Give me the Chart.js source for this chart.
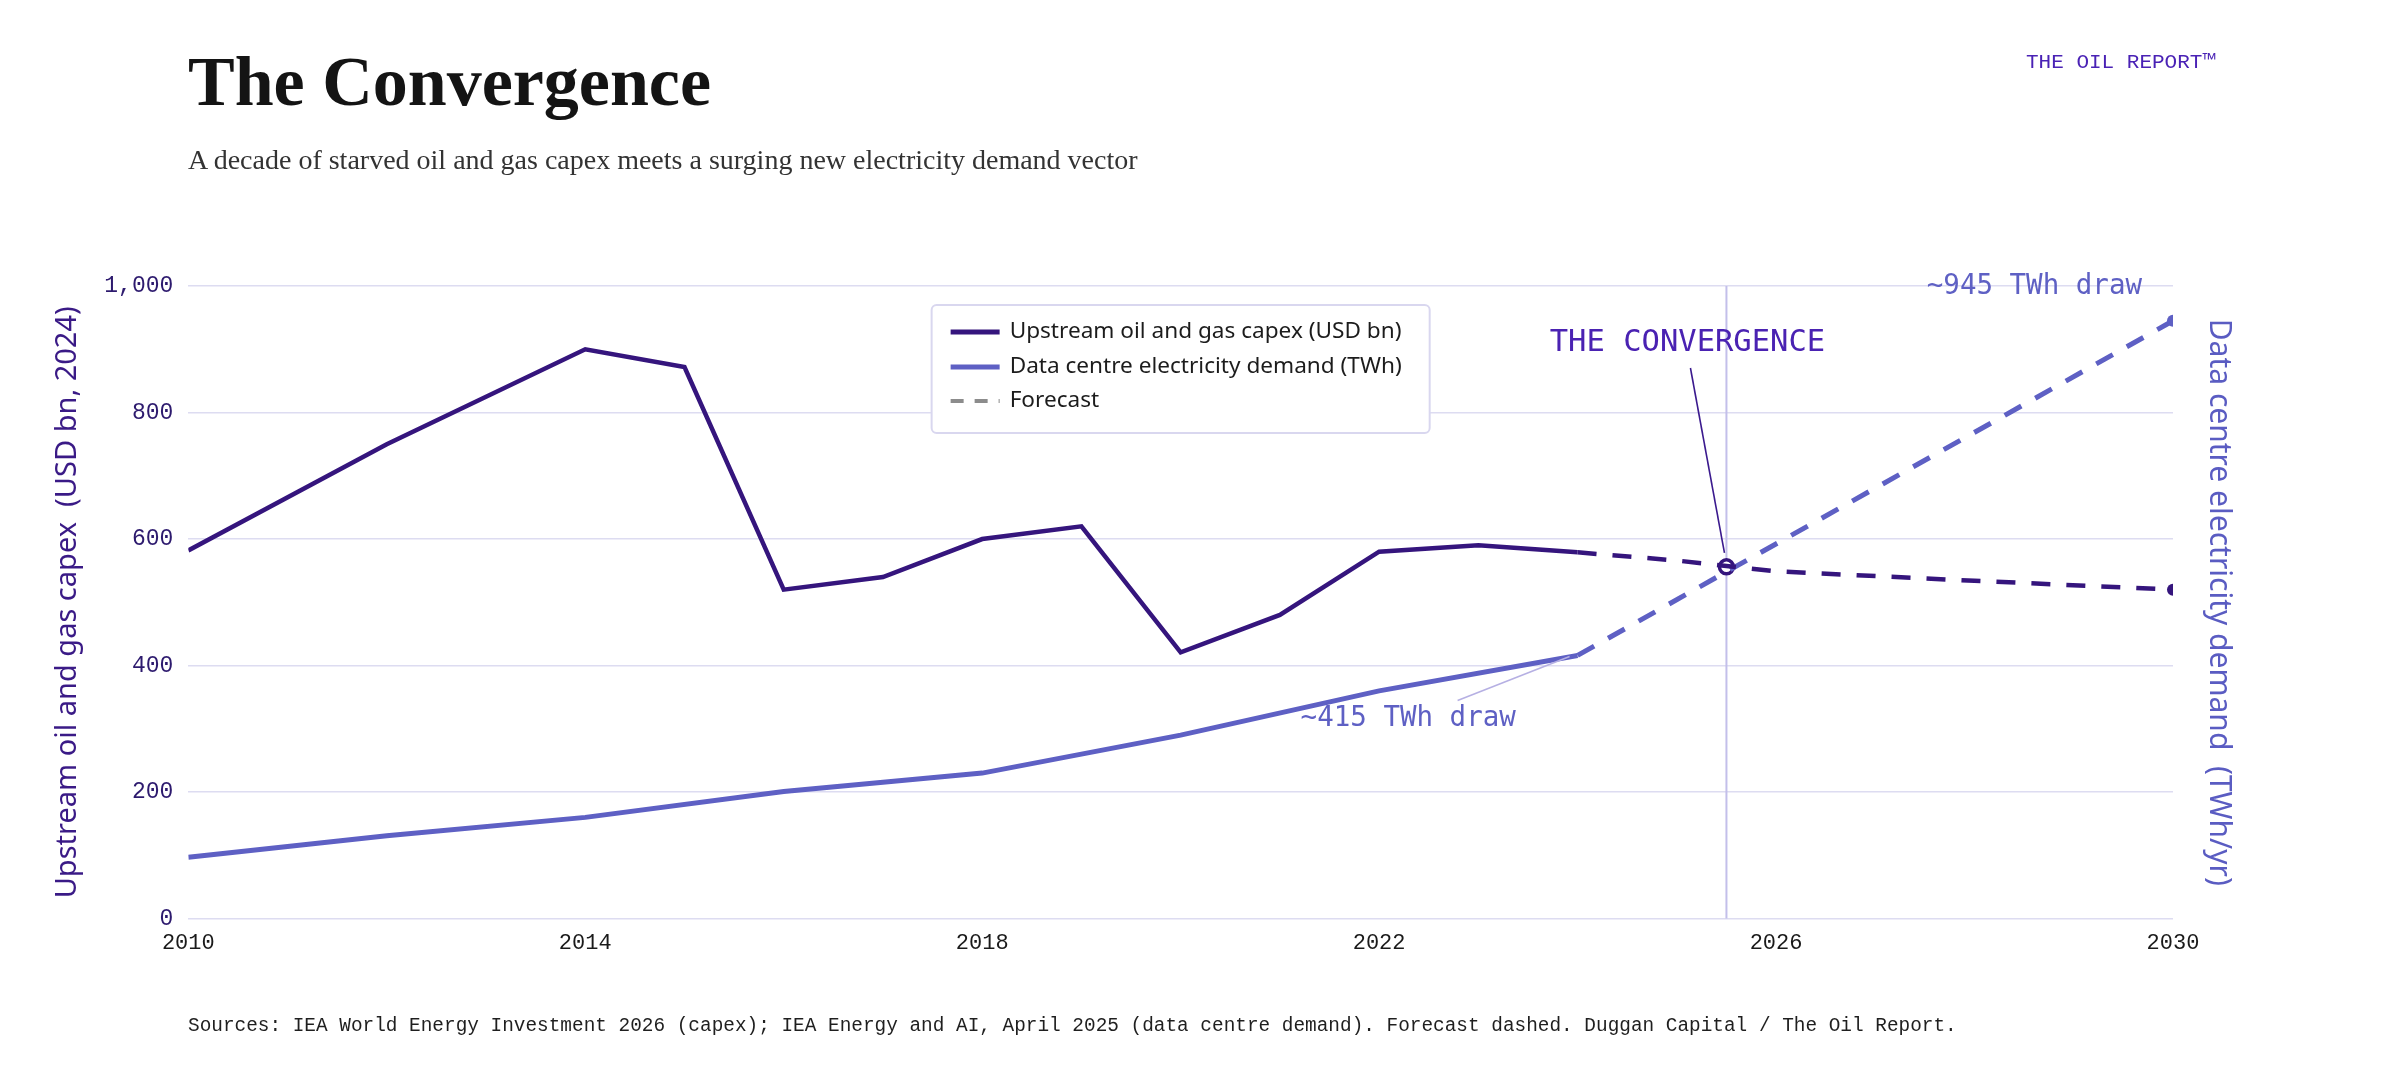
<!DOCTYPE html>
<html>
<head>
<meta charset="utf-8">
<title>The Convergence</title>
<script src="https://cdn.jsdelivr.net/npm/chart.js@4.4.1/dist/chart.umd.min.js"></script>
<style>
  html, body { margin: 0; padding: 0; background: #ffffff; }
  #wrap { position: relative; width: 2400px; height: 1080px; overflow: hidden; background: #fff; }
  #c { position: absolute; left: 0; top: 0; }
  .t { position: absolute; white-space: nowrap; margin: 0; }
  #title { left: 188px; top: 47px; font: bold 70px/70px "Liberation Serif", serif; color: #141414; }
  #sub { left: 188px; top: 146px; font: 28px/28px "Liberation Serif", serif; color: #333333; }
  #brand { right: 185px; top: 52px; font: 21px/21px "Liberation Mono", monospace; color: #4a22b5; }
  #foot { left: 188px; top: 1016px; font: 19.4px/20px "Liberation Mono", monospace; color: #1f1f1f; }
</style>
</head>
<body>
<div id="wrap">
  <canvas id="c"></canvas>
  <div class="t" id="title">The Convergence</div>
  <div class="t" id="sub">A decade of starved oil and gas capex meets a surging new electricity demand vector</div>
  <div class="t" id="brand">THE OIL REPORT™</div>
  <div class="t" id="foot">Sources: IEA World Energy Investment 2026 (capex); IEA Energy and AI, April 2025 (data centre demand). Forecast dashed. Duggan Capital / The Oil Report.</div>
</div>
<script>
// ---------- data ----------
const capexYears = [2010, 2012, 2014, 2015, 2016, 2017, 2018, 2019, 2020, 2021, 2022, 2023, 2024];
const capexValues = [582, 750, 900, 872, 520, 540, 600, 620, 421, 480, 580, 590, 579];
const capexForecastYears = [2024, 2025, 2026, 2028, 2030];
const capexForecastValues = [579, 566, 549, 534, 520];
const dcYears = [2010, 2012, 2014, 2016, 2018, 2020, 2022, 2024];
const dcValues = [97, 131, 160, 201, 230, 290, 360, 416];
const dcForecastYears = [2024, 2030];
const dcForecastValues = [416, 945];
const convergenceYears = [2025.5];
const convergenceValues = [556];
const xTickValues = [2010, 2014, 2018, 2022, 2026, 2030];
const yTickValues = [0, 200, 400, 600, 800, 1000];
const legendLabels = ['Upstream oil and gas capex (USD bn)', 'Data centre electricity demand (TWh)', 'Forecast'];
const leftAxisTitle = 'Upstream oil and gas capex  (USD bn, 2024)';
const rightAxisTitle = 'Data centre electricity demand  (TWh/yr)';
const convergenceLabel = 'THE CONVERGENCE';
const dcNowLabel = '~415 TWh draw';
const dcEndLabel = '~945 TWh draw';

// ---------- styles ----------
const CAPEX = '#35157d';
const DC = '#5e60c4';
const GRID = '#dddcf1';
const MONO = '"Liberation Mono", "DejaVu Sans Mono", monospace';
const ANNO = '"DejaVu Sans Mono", monospace';
const SANS = '"Noto Sans", "DejaVu Sans", sans-serif';

const pts = (xs, ys) => xs.map((v, i) => ({ x: v, y: ys[i] }));
const lastOnly = r => ctx => (ctx.dataIndex === ctx.dataset.data.length - 1 ? r : 0);

const legendPlugin = {
  id: 'boxLegend',
  afterDraw(chart) {
    const { ctx, chartArea } = chart;
    ctx.save();
    ctx.font = '22.6px ' + SANS;
    const textW = Math.max(...legendLabels.map(s => ctx.measureText(s).width));
    const padL = 19, sample = 49, gap = 10, padR = 28;
    const w = padL + sample + gap + textW + padR;
    const h = 128;
    const left = (chartArea.left + chartArea.right) / 2 - w / 2;
    const top = chartArea.top + 19;
    ctx.fillStyle = '#ffffff';
    ctx.strokeStyle = '#d9d7ef';
    ctx.lineWidth = 2;
    ctx.beginPath();
    ctx.roundRect(left, top, w, h, 5);
    ctx.fill();
    ctx.stroke();
    const rows = [top + 27, top + 62, top + 96];
    const styles = [
      { c: CAPEX, lw: 5, dash: [] },
      { c: DC, lw: 5, dash: [] },
      { c: '#8c8c8c', lw: 4, dash: [13, 11] }
    ];
    rows.forEach((ry, i) => {
      const s = styles[i];
      ctx.strokeStyle = s.c;
      ctx.lineWidth = s.lw;
      ctx.setLineDash(s.dash);
      ctx.lineCap = 'butt';
      ctx.beginPath();
      ctx.moveTo(left + padL, ry);
      ctx.lineTo(left + padL + sample, ry);
      ctx.stroke();
      ctx.setLineDash([]);
      ctx.fillStyle = '#1c1c1c';
      ctx.textAlign = 'left';
      ctx.textBaseline = 'middle';
      ctx.fillText(legendLabels[i], left + padL + sample + gap, ry);
    });
    ctx.restore();
  }
};

const annotPlugin = {
  id: 'annot',
  beforeDatasetsDraw(chart) {
    const { ctx, chartArea, scales: { x } } = chart;
    const px = x.getPixelForValue(convergenceYears[0]);
    ctx.save();
    ctx.strokeStyle = '#c3bfea';
    ctx.lineWidth = 2;
    ctx.beginPath();
    ctx.moveTo(px, chartArea.top);
    ctx.lineTo(px, chartArea.bottom);
    ctx.stroke();
    ctx.restore();
  },
  afterDatasetsDraw(chart) {
    const { ctx, chartArea, scales: { x, y } } = chart;
    const cx = x.getPixelForValue(convergenceYears[0]);
    const cy = y.getPixelForValue(convergenceValues[0]);
    ctx.save();
    // convergence label + leader
    ctx.font = '30.5px ' + ANNO;
    ctx.fillStyle = '#4a22b2';
    ctx.textAlign = 'center';
    ctx.textBaseline = 'alphabetic';
    ctx.fillText(convergenceLabel, cx - 39, chartArea.top + 65);
    ctx.strokeStyle = '#3b1a8e';
    ctx.lineWidth = 1.6;
    ctx.beginPath();
    ctx.moveTo(cx - 36, chartArea.top + 82);
    ctx.lineTo(cx - 2, cy - 14);
    ctx.stroke();
    // ~415 label
    const dx = x.getPixelForValue(dcYears[dcYears.length - 1]);
    const dy = y.getPixelForValue(dcValues[dcValues.length - 1]);
    ctx.strokeStyle = '#b6b0e3';
    ctx.lineWidth = 1.6;
    ctx.beginPath();
    ctx.moveTo(dx - 120, dy + 45);
    ctx.lineTo(dx - 8, dy + 1);
    ctx.stroke();
    ctx.font = '27.5px ' + ANNO;
    ctx.fillStyle = DC;
    ctx.textAlign = 'left';
    ctx.fillText(dcNowLabel, dx - 277, dy + 71);
    // ~945 label
    ctx.textAlign = 'right';
    ctx.textBaseline = 'middle';
    ctx.fillText(dcEndLabel, chartArea.right - 31, y.getPixelForValue(1000) + 1);
    ctx.restore();
  }
};

new Chart(document.getElementById('c'), {
  type: 'line',
  data: {
    datasets: [
      {
        label: legendLabels[0],
        data: pts(capexYears, capexValues),
        borderColor: CAPEX, borderWidth: 4.5, pointRadius: 0, tension: 0,
        borderJoinStyle: 'miter', yAxisID: 'y'
      },
      {
        label: legendLabels[1],
        data: pts(dcYears, dcValues),
        borderColor: DC, borderWidth: 5, pointRadius: 0, tension: 0,
        yAxisID: 'y'
      },
      {
        label: 'Capex forecast',
        data: pts(capexForecastYears, capexForecastValues),
        borderColor: CAPEX, borderWidth: 4.5, borderDash: [19, 16],
        pointRadius: lastOnly(6), pointBackgroundColor: CAPEX, pointBorderWidth: 0,
        tension: 0, yAxisID: 'y'
      },
      {
        label: 'Data centre forecast',
        data: pts(dcForecastYears, dcForecastValues),
        borderColor: DC, borderWidth: 5, borderDash: [19, 16],
        pointRadius: lastOnly(6), pointBackgroundColor: DC, pointBorderWidth: 0,
        tension: 0, yAxisID: 'y1'
      },
      {
        label: 'Convergence',
        data: pts(convergenceYears, convergenceValues),
        showLine: false, pointRadius: 7, pointBorderWidth: 3.5,
        pointBorderColor: CAPEX, pointBackgroundColor: '#ffffff', yAxisID: 'y'
      }
    ]
  },
  options: {
    responsive: true,
    maintainAspectRatio: false,
    animation: false,
    events: [],
    layout: { padding: { top: 286, left: 40, right: 163, bottom: 113 } },
    plugins: { legend: { display: false }, tooltip: { enabled: false }, title: { display: false } },
    scales: {
      x: {
        type: 'linear', min: 2010, max: 2030,
        grid: { display: false, drawTicks: false },
        border: { display: false },
        afterBuildTicks: s => { s.ticks = xTickValues.map(v => ({ value: v })); },
        ticks: { padding: 11, color: '#1a1a1a', font: { family: MONO, size: 22 }, maxRotation: 0, callback: v => String(v) }
      },
      y: {
        type: 'linear', position: 'left', min: 0, max: 1000,
        grid: { color: GRID, lineWidth: 1.5, drawTicks: false },
        border: { display: false },
        afterBuildTicks: s => { s.ticks = yTickValues.map(v => ({ value: v })); },
        ticks: { padding: 15, color: '#2d1a6e', font: { family: MONO, size: 23 }, callback: v => v.toLocaleString('en-US') },
        title: { display: true, text: leftAxisTitle, color: '#3a1a86', font: { family: SANS, size: 29 }, padding: { top: 10, bottom: 4.5 } }
      },
      y1: {
        type: 'linear', position: 'right', min: 0, max: 1000,
        grid: { display: false, drawTicks: false },
        border: { display: false },
        ticks: { display: false },
        title: { display: true, text: rightAxisTitle, color: '#5a5cc2', font: { family: SANS, size: 30 }, padding: { top: 0, bottom: 28 } }
      }
    }
  },
  plugins: [annotPlugin, legendPlugin]
});
</script>
</body>
</html>
